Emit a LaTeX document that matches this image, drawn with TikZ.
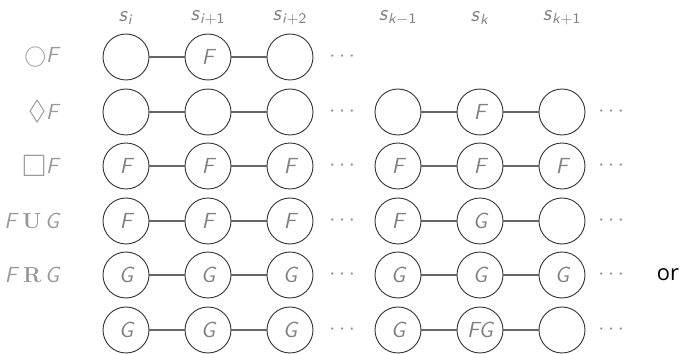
\documentclass[tikz,border=0pt]{standalone}
\usepackage{amsmath}
\usepackage{amssymb}
\usepackage{fontspec}
\newfontfamily\orfont{Open Sans}
\usetikzlibrary{positioning}

\newcommand{\sv}[1]{\textsf{\textit{s}}$_{#1}$}
\newcommand{\fv}[1]{\textsf{\textit{#1}}}
\newcommand{\opsym}[1]{{\fontsize{15}{15}\selectfont$#1$}}

\tikzset{
  st/.style={circle,draw=black!80,line width=0.5pt,minimum size=25.3pt,inner sep=2pt,text=black!50,font=\fontsize{12}{14}\sffamily\itshape},
  ln/.style={draw=black!60,line width=0.8pt},
  lab/.style={anchor=east,text=black!40,inner sep=0pt},
  hd/.style={text=black!50},
  dts/.style={text=black!45}
}

\begin{document}
\begin{tikzpicture}[x=0.55pt,y=-0.55pt,font=\fontsize{12}{14}\selectfont]
  \useasboundingbox (0,0) rectangle (683,354);
  % column heads
  \node[hd] (h1) at (126,18) {\sv{\textsf{\textit{i}}}};
  \node[hd] (h2) at (208,18) {\sv{\textsf{\textit{i}+1}}};
  \node[hd] (h3) at (290,18) {\sv{\textsf{\textit{i}+2}}};
  \node[hd] (h4) at (398,18) {\sv{\textsf{\textit{k}}-\textsf{1}}};
  \node[hd] (h5) at (480,18) {\sv{\textsf{\textit{k}}}};
  \node[hd] (h6) at (562,18) {\sv{\textsf{\textit{k}+1}}};
  % row labels
  \node[lab] (l1) at (61,57) {$\bigcirc$\fv{F}};
  \node[lab] (l2) at (61,112) {\opsym{\lozenge}\fv{F}};
  \node[lab] (l3) at (61,166) {\raisebox{-0.3ex}{\fontsize{17}{17}\selectfont$\square$}\fv{F}};
  \node[lab] (l4) at (61,221) {\fv{F}\,\textbf{\large U}\,\fv{G}};
  \node[lab] (l5) at (61,275) {\fv{F}\,\textbf{\large R}\,\fv{G}};
  % next
  \node[st] (a1) at (126,57) {};
  \node[st] (a2) at (208,57) {F};
  \node[st] (a3) at (290,57) {};
  \node[dts] (ad) at (344,57) {$\cdots$};
  \draw[ln] (a1)--(a2) (a2)--(a3);
  % eventually
  \node[st] (b1) at (126,112) {};
  \node[st] (b2) at (208,112) {};
  \node[st] (b3) at (290,112) {};
  \node[dts] (bd) at (344,112) {$\cdots$};
  \node[st] (b4) at (398,112) {};
  \node[st] (b5) at (480,112) {F};
  \node[st] (b6) at (562,112) {};
  \node[dts] (be) at (613,112) {$\cdots$};
  \draw[ln] (b1)--(b2) (b2)--(b3) (b4)--(b5) (b5)--(b6);
  % always
  \node[st] (c1) at (126,166) {F};
  \node[st] (c2) at (208,166) {F};
  \node[st] (c3) at (290,166) {F};
  \node[dts] (cd) at (344,166) {$\cdots$};
  \node[st] (c4) at (398,166) {F};
  \node[st] (c5) at (480,166) {F};
  \node[st] (c6) at (562,166) {F};
  \node[dts] (ce) at (613,166) {$\cdots$};
  \draw[ln] (c1)--(c2) (c2)--(c3) (c4)--(c5) (c5)--(c6);
  % until
  \node[st] (d1) at (126,221) {F};
  \node[st] (d2) at (208,221) {F};
  \node[st] (d3) at (290,221) {F};
  \node[dts] (dd) at (344,221) {$\cdots$};
  \node[st] (d4) at (398,221) {F};
  \node[st] (d5) at (480,221) {G};
  \node[st] (d6) at (562,221) {};
  \node[dts] (de) at (613,221) {$\cdots$};
  \draw[ln] (d1)--(d2) (d2)--(d3) (d4)--(d5) (d5)--(d6);
  % release
  \node[st] (e1) at (126,275) {G};
  \node[st] (e2) at (208,275) {G};
  \node[st] (e3) at (290,275) {G};
  \node[dts] (ed) at (344,275) {$\cdots$};
  \node[st] (e4) at (398,275) {G};
  \node[st] (e5) at (480,275) {G};
  \node[st] (e6) at (562,275) {G};
  \node[dts] (ee) at (613,275) {$\cdots$};
  \draw[ln] (e1)--(e2) (e2)--(e3) (e4)--(e5) (e5)--(e6);
  \node (or) at (668,275) {\fontsize{12}{14}\orfont or};
  % release, other case
  \node[st] (f1) at (126,330) {G};
  \node[st] (f2) at (208,330) {G};
  \node[st] (f3) at (290,330) {G};
  \node[dts] (fd) at (344,330) {$\cdots$};
  \node[st] (f4) at (398,330) {G};
  \node[st] (f5) at (480,330) {FG};
  \node[st] (f6) at (562,330) {};
  \node[dts] (fe) at (613,330) {$\cdots$};
  \draw[ln] (f1)--(f2) (f2)--(f3) (f4)--(f5) (f5)--(f6);
\end{tikzpicture}
\end{document}
